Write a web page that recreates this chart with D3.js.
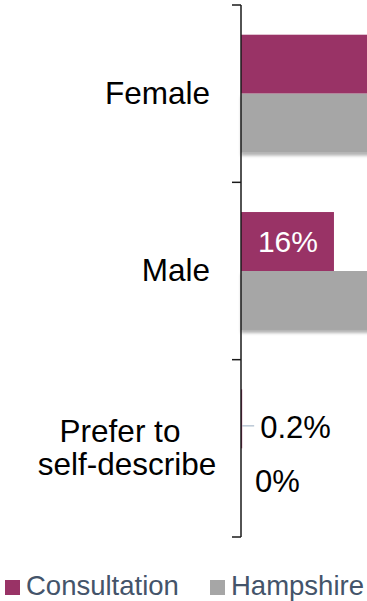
<!DOCTYPE html>
<html><head><meta charset="utf-8">
<script src="https://cdn.jsdelivr.net/npm/d3@7/dist/d3.min.js"></script>
<style>html,body{margin:0;padding:0;background:#fff;overflow:hidden}svg{display:block}</style>
</head><body>
<svg id="chart" width="367" height="601"></svg>
<script>
const categories = [["Female"], ["Male"], ["Prefer to", "self-describe"]];
const series = ["Consultation", "Hampshire"];
const consultation = [83, 16, 0.2];
const hampshire = [51, 49, 0];
const colors = ["#993366", "#a6a6a6"];

const W = 367, H = 601;
const svg = d3.select("#chart");
const defs = svg.append("defs");
const f = defs.append("filter").attr("id","sh").attr("x","-5%").attr("y","-20%").attr("width","110%").attr("height","150%");
f.append("feDropShadow").attr("dx",0).attr("dy",3).attr("stdDeviation",1.5).attr("flood-color","#000").attr("flood-opacity",0.3);

const x = d3.scaleLinear().domain([0, 100]).range([241, 241 + 581]);
const y = d3.scaleBand().domain(d3.range(categories.length)).range([5, 537]).paddingInner(0.335).paddingOuter(0.1675);
const ys = d3.scaleBand().domain(series).range([0, y.bandwidth()]);
const vals = [consultation, hampshire];

const g = svg.append("g");
series.forEach((s, si) => {
  const data = vals[si].map((v, i) => ({v, i}));
  g.selectAll(null).data(data).enter().append("rect")
    .attr("x", x(0))
    .attr("y", d => y(d.i) + ys(s))
    .attr("width", d => x(d.v) - x(0))
    .attr("height", ys.bandwidth())
    .attr("fill", colors[si])
    .attr("filter", si === 1 ? "url(#sh)" : null);
});

// labels (inside end for long bars); labels that fall outside the cropped view are not drawn
series.forEach((s, si) => {
  vals[si].forEach((v, i) => {
    const cy = y(i) + ys(s) + ys.bandwidth() / 2;
    const label = (v === 0.2 ? "0.2" : d3.format("d")(v)) + "%";
    const w = x(v) - x(0);
    if (w > 70) {
      if (x(v) - 16 > W) return;
      g.append("text").attr("x", x(v) - 16).attr("y", cy + 10.5)
        .attr("text-anchor", "end").attr("fill", "#fff")
        .style("font", "30px 'Liberation Sans', Arial, sans-serif").text(label);
    } else if (v > 0) {
      g.append("line").attr("x1", x(v)).attr("x2", x(v) + 12).attr("y1", cy + 7).attr("y2", cy + 7)
        .attr("stroke", "#a9bacb").attr("stroke-width", 1.2);
      g.append("text").attr("x", x(v) + 18).attr("y", cy + 19)
        .attr("fill", "#000").style("font", "31px 'Liberation Sans', Arial, sans-serif").text(label);
    } else {
      g.append("text").attr("x", x(v) + 14).attr("y", cy + 14)
        .attr("fill", "#000").style("font", "31px 'Liberation Sans', Arial, sans-serif").text(label);
    }
  });
});

// axis
const ax = svg.append("g");
ax.append("line").attr("x1", 241).attr("x2", 241).attr("y1", 5).attr("y2", 537).attr("stroke", "#1a1a1a").attr("stroke-width", 1.5);
const ticks = d3.range(categories.length + 1).map(i => i < categories.length ? y(i) - y.step() * y.paddingOuter() : y(i - 1) + y.step() * (1 - y.paddingOuter()));
ax.selectAll(null).data(ticks).enter().append("line")
  .attr("x1", 232).attr("x2", 241).attr("y1", d => d).attr("y2", d => d)
  .attr("stroke", "#1a1a1a").attr("stroke-width", 1.5);

// category labels
categories.forEach((lines, i) => {
  const cy = y(i) + y.bandwidth() / 2;
  if (lines.length === 1) {
    svg.append("text").attr("x", 210).attr("y", cy + 10).attr("text-anchor", "end")
      .style("font", "31.5px 'Liberation Sans', Arial, sans-serif").attr("fill", "#000").text(lines[0]);
  } else {
    lines.forEach((t, k) => {
      svg.append("text").attr("x", k === 0 ? 120 : 127).attr("y", cy - 6 + k * 33).attr("text-anchor", "middle")
        .style("font", "31.5px 'Liberation Sans', Arial, sans-serif").attr("fill", "#000").text(t);
    });
  }
});

// legend
const lg = svg.append("g");
const lx = [5, 210];
series.forEach((s, si) => {
  lg.append("rect").attr("x", lx[si]).attr("y", 580).attr("width", 15).attr("height", 15).attr("fill", colors[si]);
  lg.append("text").attr("x", lx[si] + 21).attr("y", 595).attr("fill", "#44546a")
    .style("font", "27.5px 'Liberation Sans', Arial, sans-serif").text(s);
});
</script>
</body></html>
